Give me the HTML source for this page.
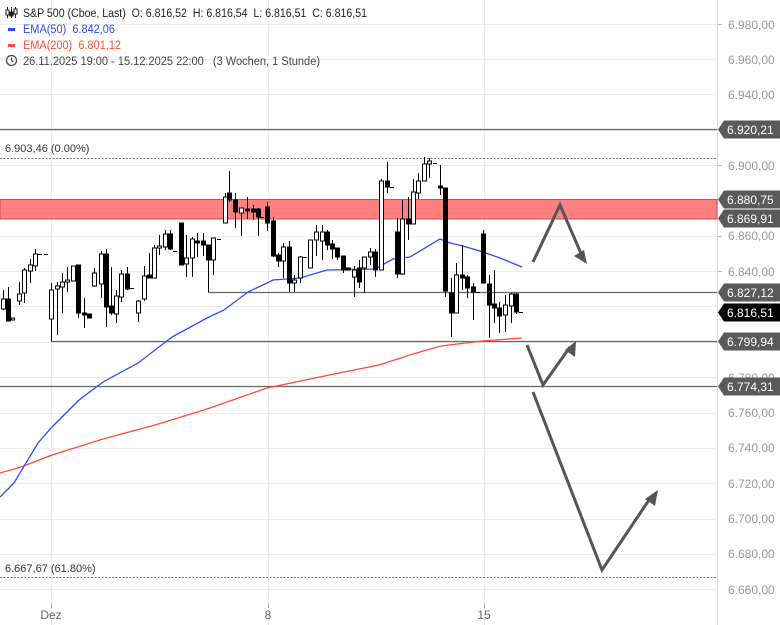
<!DOCTYPE html>
<html><head><meta charset="utf-8"><style>
body{margin:0;background:#fff;}
svg{display:block;font-family:"Liberation Sans",sans-serif;}
.pre{white-space:pre;}
</style></head><body>
<svg width="780" height="625" viewBox="0 0 780 625" xmlns="http://www.w3.org/2000/svg">
<rect width="780" height="625" fill="#fff"/>
<g stroke="#ececec" stroke-width="1">
<line x1="0" x2="717" y1="24.5" y2="24.5"/><line x1="0" x2="717" y1="59.5" y2="59.5"/><line x1="0" x2="717" y1="94.5" y2="94.5"/><line x1="0" x2="717" y1="130.5" y2="130.5"/><line x1="0" x2="717" y1="165.5" y2="165.5"/><line x1="0" x2="717" y1="200.5" y2="200.5"/><line x1="0" x2="717" y1="236.5" y2="236.5"/><line x1="0" x2="717" y1="271.5" y2="271.5"/><line x1="0" x2="717" y1="306.5" y2="306.5"/><line x1="0" x2="717" y1="342.5" y2="342.5"/><line x1="0" x2="717" y1="377.5" y2="377.5"/><line x1="0" x2="717" y1="413.5" y2="413.5"/><line x1="0" x2="717" y1="448.5" y2="448.5"/><line x1="0" x2="717" y1="483.5" y2="483.5"/><line x1="0" x2="717" y1="519.5" y2="519.5"/><line x1="0" x2="717" y1="554.5" y2="554.5"/><line x1="0" x2="717" y1="589.5" y2="589.5"/>
<line x1="51.5" x2="51.5" y1="0" y2="625"/><line x1="268.5" x2="268.5" y1="0" y2="625"/><line x1="484.5" x2="484.5" y1="0" y2="625"/>
</g>
<line x1="717.5" x2="717.5" y1="0" y2="625" stroke="#ddd"/>
<rect x="0" y="199.5" width="717" height="19.5" fill="#ff8080" stroke="#c85050" stroke-width="1"/>
<g stroke="#666" stroke-width="1.2">
<line x1="0" x2="717" y1="129.5" y2="129.5"/>
<line x1="208" x2="717" y1="292.5" y2="292.5"/>
<line x1="51" x2="717" y1="341.5" y2="341.5"/>
<line x1="0" x2="717" y1="386.5" y2="386.5"/>
</g>
<g stroke="#777" stroke-width="1" stroke-dasharray="2,1.5">
<line x1="0" x2="717" y1="158.5" y2="158.5"/>
<line x1="0" x2="717" y1="577.5" y2="577.5"/>
</g>
<text x="5" y="152" font-size="11" fill="#333">6.903,46 (0.00%)</text>
<text x="5" y="572" font-size="11" fill="#333">6.667,67 (61.80%)</text>
<polyline fill="none" stroke="#ff4a3a" stroke-width="1.3" points="0,473 21,467 52,455 103,439 155,425 207,409 267,388 310,379 344,372 379,365 413,354 441,346 482,341 522,338"/>
<polyline fill="none" stroke="#2a4cff" stroke-width="1.3" points="0,497 14,483 38,443 52,427 79,400 103,382 138,363 172,337 207,318 224,310 248,292 267,283 273,280 300,278 327,270 375,269 393,259 410,257 440,239 450,243 463,246 483,252 500,258 522,267"/>
<g stroke="#000" stroke-width="1">
<line x1="3.5" y1="290" x2="3.5" y2="310"/><rect x="1.5" y="299" width="4" height="10" fill="#fff"/>
<line x1="8.5" y1="287" x2="8.5" y2="321"/><rect x="6.5" y="299" width="4" height="22" fill="#000"/>
<rect x="11.5" y="318" width="3" height="2" fill="#fff"/>
<line x1="19.5" y1="282" x2="19.5" y2="305"/><rect x="17.5" y="294" width="4" height="7" fill="#fff"/>
<line x1="24.5" y1="268" x2="24.5" y2="303"/><rect x="22.5" y="270" width="4" height="23" fill="#fff"/>
<line x1="30.5" y1="259" x2="30.5" y2="283"/><rect x="28.5" y="265" width="4" height="6" fill="#fff"/>
<line x1="35.5" y1="249" x2="35.5" y2="271"/><rect x="33.5" y="254" width="4" height="12" fill="#fff"/>
<line x1="38" y1="254.5" x2="42" y2="254.5"/><line x1="44" y1="254.5" x2="48" y2="254.5"/>
<line x1="51.5" y1="283" x2="51.5" y2="341"/><rect x="49.5" y="290" width="4" height="29" fill="#fff"/>
<line x1="57.5" y1="282" x2="57.5" y2="335"/><rect x="55.5" y="286" width="4" height="3" fill="#fff"/>
<line x1="62.5" y1="273" x2="62.5" y2="313"/><rect x="60.5" y="282" width="4" height="5" fill="#fff"/>
<line x1="67.5" y1="267" x2="67.5" y2="292"/><rect x="65.5" y="280" width="4" height="2" fill="#fff"/>
<line x1="73.5" y1="266" x2="73.5" y2="281"/><rect x="71.5" y="266" width="4" height="15" fill="#fff"/>
<line x1="78.5" y1="265" x2="78.5" y2="318"/><rect x="76.5" y="265" width="4" height="48" fill="#000"/>
<line x1="84.5" y1="298" x2="84.5" y2="328"/><rect x="82.5" y="313" width="4" height="2" fill="#000"/>
<rect x="87.5" y="314" width="4" height="4" fill="#000"/>
<line x1="94.5" y1="268" x2="94.5" y2="287"/><rect x="92.5" y="273" width="4" height="13" fill="#fff"/>
<line x1="101.5" y1="251" x2="101.5" y2="298"/><rect x="99.5" y="254" width="4" height="30" fill="#fff"/>
<line x1="106.5" y1="249" x2="106.5" y2="327"/><rect x="104.5" y="254" width="4" height="53" fill="#000"/>
<line x1="111.5" y1="267" x2="111.5" y2="315"/><rect x="109.5" y="306" width="4" height="7" fill="#000"/>
<line x1="116.5" y1="290" x2="116.5" y2="323"/><rect x="114.5" y="296" width="4" height="18" fill="#fff"/>
<line x1="121.5" y1="270" x2="121.5" y2="302"/><rect x="119.5" y="274" width="4" height="23" fill="#fff"/>
<line x1="127.5" y1="267" x2="127.5" y2="290"/><rect x="125.5" y="274" width="4" height="15" fill="#000"/>
<line x1="130" y1="288.5" x2="134" y2="288.5"/>
<line x1="138.5" y1="300" x2="138.5" y2="322"/><rect x="136.5" y="301" width="4" height="12" fill="#fff"/>
<line x1="144.5" y1="266" x2="144.5" y2="301"/><rect x="142.5" y="276" width="4" height="23" fill="#fff"/>
<line x1="149.5" y1="253" x2="149.5" y2="278"/><rect x="147.5" y="275" width="4" height="3" fill="#000"/>
<line x1="154.5" y1="245" x2="154.5" y2="278"/><rect x="152.5" y="248" width="4" height="30" fill="#fff"/>
<line x1="159.5" y1="235" x2="159.5" y2="255"/><rect x="157.5" y="246" width="4" height="2" fill="#fff"/>
<line x1="165.5" y1="230" x2="165.5" y2="250"/><rect x="163.5" y="234" width="4" height="13" fill="#fff"/>
<line x1="170.5" y1="230" x2="170.5" y2="250"/><rect x="168.5" y="234" width="4" height="15" fill="#000"/>
<line x1="173" y1="251.5" x2="177" y2="251.5"/>
<line x1="181.5" y1="223" x2="181.5" y2="265"/><rect x="179.5" y="223" width="4" height="42" fill="#000"/>
<line x1="186.5" y1="235" x2="186.5" y2="277"/><rect x="184.5" y="258" width="4" height="6" fill="#fff"/>
<line x1="192.5" y1="237" x2="192.5" y2="277"/><rect x="190.5" y="239" width="4" height="19" fill="#fff"/>
<line x1="197.5" y1="233" x2="197.5" y2="257"/><rect x="195.5" y="241" width="4" height="2" fill="#000"/>
<line x1="203.5" y1="233" x2="203.5" y2="256"/><rect x="201.5" y="241" width="4" height="4" fill="#000"/>
<line x1="208.5" y1="245" x2="208.5" y2="292"/><rect x="206.5" y="245" width="4" height="15" fill="#000"/>
<line x1="213.5" y1="238" x2="213.5" y2="275"/><rect x="211.5" y="238" width="4" height="22" fill="#fff"/>
<line x1="217" y1="239.5" x2="221" y2="239.5"/>
<line x1="225.5" y1="193" x2="225.5" y2="223"/><rect x="223.5" y="197" width="4" height="26" fill="#fff"/>
<line x1="229.5" y1="171" x2="229.5" y2="202"/><rect x="227.5" y="193" width="4" height="7" fill="#000"/>
<line x1="235.5" y1="193" x2="235.5" y2="228"/><rect x="233.5" y="200" width="4" height="12" fill="#000"/>
<line x1="241.5" y1="208" x2="241.5" y2="236"/><rect x="239.5" y="208" width="4" height="5" fill="#fff"/>
<line x1="247.5" y1="197" x2="247.5" y2="219"/><rect x="245.5" y="209" width="4" height="2" fill="#000"/>
<line x1="253.5" y1="205" x2="253.5" y2="220"/><rect x="251.5" y="209" width="4" height="3" fill="#000"/>
<line x1="258.5" y1="208" x2="258.5" y2="236"/><rect x="256.5" y="209" width="4" height="8" fill="#000"/>
<line x1="260" y1="217.5" x2="264" y2="217.5"/>
<line x1="267.5" y1="202" x2="267.5" y2="231"/><rect x="265.5" y="207" width="4" height="16" fill="#000"/>
<line x1="273.5" y1="217" x2="273.5" y2="257"/><rect x="271.5" y="221" width="4" height="35" fill="#000"/>
<line x1="278.5" y1="253" x2="278.5" y2="267"/><rect x="276.5" y="255" width="4" height="6" fill="#000"/>
<line x1="283.5" y1="243" x2="283.5" y2="278"/><rect x="281.5" y="247" width="4" height="14" fill="#fff"/>
<line x1="289.5" y1="241" x2="289.5" y2="292"/><rect x="287.5" y="247" width="4" height="36" fill="#000"/>
<line x1="294.5" y1="275" x2="294.5" y2="292"/><rect x="292.5" y="280" width="4" height="3" fill="#fff"/>
<line x1="300.5" y1="256" x2="300.5" y2="283"/><rect x="298.5" y="257" width="4" height="21" fill="#fff"/>
<line x1="303" y1="257.5" x2="307" y2="257.5"/>
<line x1="310.5" y1="240" x2="310.5" y2="268"/><rect x="308.5" y="240" width="4" height="28" fill="#fff"/>
<line x1="316.5" y1="225" x2="316.5" y2="256"/><rect x="314.5" y="232" width="4" height="8" fill="#fff"/>
<line x1="322.5" y1="225" x2="322.5" y2="260"/><rect x="320.5" y="232" width="4" height="9" fill="#fff"/>
<line x1="327.5" y1="230" x2="327.5" y2="250"/><rect x="325.5" y="232" width="4" height="13" fill="#000"/>
<line x1="332.5" y1="240" x2="332.5" y2="259"/><rect x="330.5" y="244" width="4" height="5" fill="#000"/>
<line x1="337.5" y1="248" x2="337.5" y2="260"/><rect x="335.5" y="248" width="4" height="9" fill="#000"/>
<line x1="343.5" y1="256" x2="343.5" y2="273"/><rect x="341.5" y="256" width="4" height="14" fill="#000"/>
<rect x="346.5" y="268" width="4" height="2" fill="#000"/>
<line x1="354.5" y1="266" x2="354.5" y2="297"/><rect x="352.5" y="270" width="4" height="7" fill="#fff"/>
<line x1="359.5" y1="260" x2="359.5" y2="288"/><rect x="357.5" y="268" width="4" height="14" fill="#000"/>
<line x1="364.5" y1="257" x2="364.5" y2="293"/><rect x="362.5" y="257" width="4" height="11" fill="#fff"/>
<line x1="370.5" y1="248" x2="370.5" y2="265"/><rect x="368.5" y="252" width="4" height="5" fill="#fff"/>
<line x1="375.5" y1="249" x2="375.5" y2="277"/><rect x="373.5" y="252" width="4" height="18" fill="#000"/>
<line x1="381.5" y1="179" x2="381.5" y2="270"/><rect x="379.5" y="181" width="4" height="89" fill="#fff"/>
<line x1="387.5" y1="162" x2="387.5" y2="193"/><rect x="385.5" y="181" width="4" height="6" fill="#000"/>
<line x1="390" y1="187.5" x2="394" y2="187.5"/>
<line x1="397.5" y1="218" x2="397.5" y2="278"/><rect x="395.5" y="232" width="4" height="42" fill="#000"/>
<line x1="402.5" y1="200" x2="402.5" y2="275"/><rect x="400.5" y="219" width="4" height="55" fill="#fff"/>
<line x1="408.5" y1="197" x2="408.5" y2="240"/><rect x="406.5" y="219" width="4" height="5" fill="#000"/>
<line x1="413.5" y1="179" x2="413.5" y2="224"/><rect x="411.5" y="192" width="4" height="32" fill="#fff"/>
<line x1="418.5" y1="173" x2="418.5" y2="199"/><rect x="416.5" y="181" width="4" height="12" fill="#fff"/>
<line x1="424.5" y1="157" x2="424.5" y2="181"/><rect x="422.5" y="164" width="4" height="17" fill="#fff"/>
<line x1="429.5" y1="158" x2="429.5" y2="178"/><rect x="427.5" y="161" width="4" height="3" fill="#fff"/>
<line x1="433" y1="163.5" x2="437" y2="163.5"/>
<line x1="440.5" y1="165" x2="440.5" y2="195"/><rect x="438.5" y="186" width="4" height="2" fill="#000"/>
<line x1="445.5" y1="188" x2="445.5" y2="297"/><rect x="443.5" y="188" width="4" height="103" fill="#000"/>
<line x1="451.5" y1="278" x2="451.5" y2="337"/><rect x="449.5" y="293" width="4" height="20" fill="#000"/>
<line x1="456.5" y1="263" x2="456.5" y2="313"/><rect x="454.5" y="275" width="4" height="38" fill="#fff"/>
<line x1="462.5" y1="245" x2="462.5" y2="290"/><rect x="460.5" y="275" width="4" height="3" fill="#000"/>
<line x1="467.5" y1="275" x2="467.5" y2="298"/><rect x="465.5" y="277" width="4" height="11" fill="#000"/>
<line x1="473.5" y1="283" x2="473.5" y2="320"/><rect x="471.5" y="287" width="4" height="5" fill="#000"/>
<line x1="476" y1="292.5" x2="480" y2="292.5"/>
<line x1="483.5" y1="230" x2="483.5" y2="283"/><rect x="481.5" y="234" width="4" height="49" fill="#000"/>
<line x1="489.5" y1="275" x2="489.5" y2="338"/><rect x="487.5" y="284" width="4" height="21" fill="#000"/>
<line x1="494.5" y1="270" x2="494.5" y2="323"/><rect x="492.5" y="304" width="4" height="4" fill="#000"/>
<line x1="499.5" y1="302" x2="499.5" y2="333"/><rect x="497.5" y="308" width="4" height="8" fill="#000"/>
<line x1="505.5" y1="295" x2="505.5" y2="332"/><rect x="503.5" y="305" width="4" height="10" fill="#fff"/>
<line x1="511.5" y1="293" x2="511.5" y2="323"/><rect x="509.5" y="294" width="4" height="12" fill="#fff"/>
<line x1="516.5" y1="293" x2="516.5" y2="314"/><rect x="514.5" y="294" width="4" height="18" fill="#000"/>
<line x1="519" y1="312.5" x2="523" y2="312.5"/>
</g>
<g stroke="#555" stroke-width="3" fill="none" stroke-linejoin="miter">
<polyline points="533,262 560,205 583,258"/>
<polyline points="527,345 543,385 570,347"/>
<polyline points="533,392 602,570 651,497"/>
</g>
<g fill="#555">
<polygon points="587,264 574,256 584,250"/>
<polygon points="576,341 575,357 565,350"/>
<polygon points="658,490 655,506 645,499"/>
</g>
<g font-size="12" fill="#999">
<text x="728" y="29">6.980,00</text><text x="728" y="64">6.960,00</text><text x="728" y="99">6.940,00</text><text x="728" y="170">6.900,00</text><text x="728" y="240">6.860,00</text><text x="728" y="276">6.840,00</text><text x="728" y="382">6.780,00</text><text x="728" y="417">6.760,00</text><text x="728" y="452">6.740,00</text><text x="728" y="488">6.720,00</text><text x="728" y="523">6.700,00</text><text x="728" y="558">6.680,00</text><text x="728" y="594">6.660,00</text>
</g>
<g stroke="#bbb"><line x1="718" x2="722" y1="24.5" y2="24.5"/><line x1="718" x2="722" y1="165.5" y2="165.5"/><line x1="718" x2="722" y1="236.5" y2="236.5"/><line x1="718" x2="722" y1="271.5" y2="271.5"/></g>
<g font-size="12" fill="#fff">
<path d="M718,129.5 l6,-9 h56 v18 h-56 z" fill="#5a5a5a"/><text x="727" y="134">6.920,21</text>
<path d="M718,199.5 l6,-9 h56 v18 h-56 z" fill="#5a5a5a"/><text x="727" y="204">6.880,75</text>
<path d="M718,218.5 l6,-9 h56 v18 h-56 z" fill="#5a5a5a"/><text x="727" y="223">6.869,91</text>
<path d="M718,292.5 l6,-9 h56 v18 h-56 z" fill="#5a5a5a"/><text x="727" y="297">6.827,12</text>
<path d="M718,312.5 l6,-9 h56 v18 h-56 z" fill="#000"/><text x="727" y="317">6.816,51</text>
<path d="M718,341.5 l6,-9 h56 v18 h-56 z" fill="#5a5a5a"/><text x="727" y="346">6.799,94</text>
<path d="M718,386.5 l6,-9 h56 v18 h-56 z" fill="#5a5a5a"/><text x="727" y="391">6.774,31</text>
</g>
<g font-size="12" fill="#666" text-anchor="middle">
<text x="51" y="619">Dez</text><text x="268" y="619">8</text><text x="484" y="619">15</text>
</g>
<g stroke="#999"><line x1="51.5" x2="51.5" y1="604" y2="608"/><line x1="268.5" x2="268.5" y1="604" y2="608"/><line x1="484.5" x2="484.5" y1="604" y2="608"/></g>
<g font-size="11.5">
<g stroke="#222" stroke-width="1" fill="#fff">
<line x1="7.5" y1="7" x2="7.5" y2="18"/><rect x="6" y="10" width="3" height="5"/>
<line x1="11.5" y1="7" x2="11.5" y2="18"/><rect x="10" y="12" width="3" height="4" fill="#222"/>
<line x1="15.5" y1="7" x2="15.5" y2="18"/><rect x="14" y="9" width="3" height="5"/>
</g>
<text x="23" y="17" fill="#222" class="pre" textLength="344" lengthAdjust="spacingAndGlyphs">S&amp;P 500 (Cboe, Last)  O: 6.816,52  H: 6.816,54  L: 6.816,51  C: 6.816,51</text>
<rect x="8" y="28" width="7" height="3" fill="#2a4cff"/>
<text x="23" y="33" fill="#2a4cff" class="pre" textLength="92" lengthAdjust="spacingAndGlyphs">EMA(50)  6.842,06</text>
<rect x="8" y="44" width="7" height="3" fill="#ff4a3a"/>
<text x="23" y="49" fill="#ff4a3a" class="pre" textLength="98" lengthAdjust="spacingAndGlyphs">EMA(200)  6.801,12</text>
<circle cx="11.5" cy="60.5" r="5" fill="none" stroke="#444" stroke-width="1.2"/>
<polyline points="11.5,57.5 11.5,60.5 13.5,62" fill="none" stroke="#444" stroke-width="1.2"/>
<text x="23" y="65" fill="#444" class="pre" textLength="297" lengthAdjust="spacingAndGlyphs">26.11.2025 19:00 - 15.12.2025 22:00   (3 Wochen, 1 Stunde)</text>
</g>
</svg>
</body></html>
